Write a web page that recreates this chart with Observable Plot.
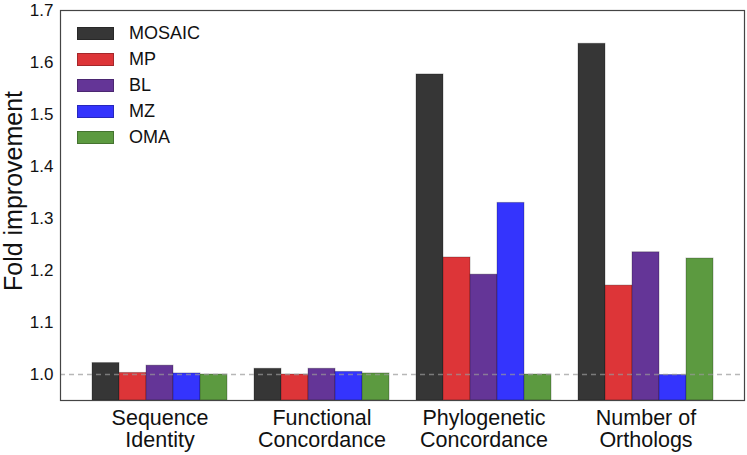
<!DOCTYPE html>
<html><head><meta charset="utf-8">
<script src="https://cdn.jsdelivr.net/npm/d3@7"></script>
<script src="https://cdn.jsdelivr.net/npm/@observablehq/plot@0.6"></script>
<style>
body{margin:0;background:#fff;font-family:"Liberation Sans",Arial,sans-serif;}
#wrap{position:relative;width:747px;height:455px;}
#legend{position:absolute;left:77px;top:0;}
.row{position:absolute;left:0;height:20px;display:flex;align-items:center;white-space:nowrap;}
.sw{width:37px;height:13px;box-sizing:border-box;border:1px solid rgba(0,0,0,.25)}
.lab{margin-left:15px;font-size:18px;color:#111}
#ylabel{position:absolute;left:13px;top:191px;transform:translate(-50%,-50%) rotate(-90deg);font-size:25px;line-height:1;white-space:nowrap;color:#111}
</style></head><body><div id="wrap"></div>
<script>
const categories = ["Sequence\nIdentity", "Functional\nConcordance", "Phylogenetic\nConcordance", "Number of\nOrthologs"];
const methods = ["MOSAIC", "MP", "BL", "MZ", "OMA"];
const colors = ["#363636", "#dd3538", "#643597", "#3434fd", "#5c9a40"];
const MOSAIC = [1.022, 1.011, 1.577, 1.636];
const MP     = [1.003, 1.000, 1.225, 1.171];
const BL     = [1.017, 1.011, 1.192, 1.235];
const MZ     = [1.002, 1.005, 1.330, 0.999];
const OMA    = [1.000, 1.002, 1.000, 1.223];
const yTicks = [1.0, 1.1, 1.2, 1.3, 1.4, 1.5, 1.6, 1.7];
const yDomain = [0.95, 1.7];
const baseline = [1.0];
const yLabel = "Fold improvement";

const series = {MOSAIC, MP, BL, MZ, OMA};
const rows = [];
categories.forEach((c, i) => methods.forEach(m => rows.push({key: c + "|" + m, category: c, method: m, value: series[m][i]})));
const xDomain = [];
categories.forEach((c, i) => {
  if (i > 0) xDomain.push("gap" + i);
  methods.forEach(m => xDomain.push(c + "|" + m));
});

const font = '"Liberation Sans", Arial, sans-serif';
const chart = Plot.plot({
  width: 747, height: 455,
  marginLeft: 60, marginRight: 3, marginTop: 10, marginBottom: 55,
  style: {fontFamily: font, background: "white", color: "#111", overflow: "visible"},
  x: {type: "band", domain: xDomain, padding: 0, paddingOuter: 1, axis: null},
  y: {domain: yDomain, axis: null},
  color: {domain: methods, range: colors},
  marks: [
    Plot.barY(rows, {x: "key", y1: yDomain[0], y2: "value", fill: "method", stroke: "#000", strokeOpacity: 0.25, strokeWidth: 1}),
    Plot.ruleY(baseline, {stroke: "#999", strokeOpacity: 0.7, strokeDasharray: "5,4", strokeWidth: 1.6}),
    Plot.frame({stroke: "#444", strokeWidth: 1.2}),
    Plot.axisY({ticks: yTicks, tickFormat: d3.format(".1f"), tickSize: 0, tickPadding: 7, fontSize: 17, label: null}),
    Plot.axisX({ticks: categories.map(c => c + "|BL"), tickFormat: k => k.split("|")[0], tickSize: 0, tickPadding: 8, fontSize: 21.5, lineHeight: 1.06, label: null})
  ]
});
const wrap = document.getElementById("wrap");
wrap.appendChild(chart);
const yl = document.createElement("div");
yl.id = "ylabel";
yl.textContent = yLabel;
wrap.appendChild(yl);
const legend = document.createElement("div");
legend.id = "legend";
methods.forEach((m, i) => {
  const row = document.createElement("div");
  row.className = "row";
  row.style.top = (23 + 26 * i) + "px";
  row.innerHTML = `<div class="sw" style="background:${colors[i]}"></div><span class="lab">${m}</span>`;
  legend.appendChild(row);
});
wrap.appendChild(legend);
</script></body></html>
